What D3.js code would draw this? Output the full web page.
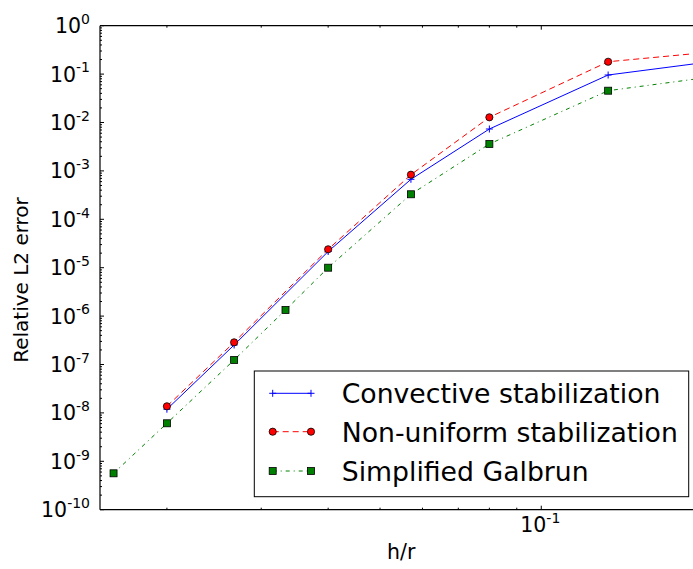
<!DOCTYPE html>
<html><head><meta charset="utf-8">
<script src="https://cdn.jsdelivr.net/npm/d3@7"></script>
<style>body{margin:0;background:#fff}svg{display:block;font-family:"DejaVu Sans",sans-serif}</style>
</head><body><svg id="c" width="693" height="569"></svg>
<script>
// data
const hrConvective = [0.02, 0.0267, 0.04, 0.0571, 0.08, 0.1333, 0.25];
const convective   = [1.19e-8, 2.53e-7, 2.16e-5, 6.70e-4, 7.34e-3, 0.0958, 0.236];
const hrNonUniform = [0.02, 0.0267, 0.04, 0.0571, 0.08, 0.1333, 0.25];
const nonUniform   = [1.37e-8, 2.87e-7, 2.40e-5, 8.34e-4, 1.28e-2, 0.180, 0.346];
const hrGalbrun    = [0.0159, 0.02, 0.0267, 0.0333, 0.04, 0.0571, 0.08, 0.1333, 0.25];
const galbrun      = [5.65e-10, 6.10e-9, 1.24e-7, 1.34e-6, 1.0e-5, 3.29e-4, 3.60e-3, 0.0454, 0.115];
const seriesNames  = ["Convective stabilization", "Non-uniform stabilization", "Simplified Galbrun"];
const yMajorExp    = [0, -1, -2, -3, -4, -5, -6, -7, -8, -9, -10];
const xMajorExp    = [-1];
const xLabel = "h/r", yLabel = "Relative L2 error";

const svg = d3.select("#c");
const L = 100, T = 25.7, B = 509.7, R = 702.5;
const x = d3.scaleLog().domain([0.015, 0.2]).range([L, R]);
const y = d3.scaleLog().domain([1e-10, 1]).range([B, T]);

svg.append("rect").attr("width", 693).attr("height", 569).attr("fill", "#fff");
svg.append("defs").append("clipPath").attr("id", "clip")
  .append("rect").attr("x", L).attr("y", T).attr("width", R - L).attr("height", B - T);

// ticks
const yMinor = [];
for (let e = -10; e < 0; e++) for (let m = 2; m <= 9; m++) yMinor.push(m * Math.pow(10, e));
const xMinor = [0.02,0.03,0.04,0.05,0.06,0.07,0.08,0.09,0.2];
const xMajor = xMajorExp.map(e => Math.pow(10, e));
const yMajor = yMajorExp.map(e => Math.pow(10, e));

const tk = svg.append("g").attr("stroke", "#000").attr("stroke-width", 1);
function hTick(v, len){ tk.append("line").attr("x1", L).attr("x2", L + len).attr("y1", y(v)).attr("y2", y(v)); }
yMajor.forEach(v => hTick(v, 4));
yMinor.forEach(v => hTick(v, 2));
function vTick(v, len){
  tk.append("line").attr("x1", x(v)).attr("x2", x(v)).attr("y1", B).attr("y2", B - len);
  tk.append("line").attr("x1", x(v)).attr("x2", x(v)).attr("y1", T).attr("y2", T + len);
}
xMajor.forEach(v => vTick(v, 4));
xMinor.forEach(v => vTick(v, 2));

// spines
const sp = svg.append("g").attr("stroke", "#000").attr("stroke-width", 1.2).attr("fill", "none");
sp.append("line").attr("x1", L).attr("x2", L).attr("y1", T).attr("y2", B);
sp.append("line").attr("x1", L).attr("x2", R).attr("y1", B).attr("y2", B);
sp.append("line").attr("x1", L).attr("x2", R).attr("y1", T).attr("y2", T);

// tick labels
yMajorExp.forEach(e => {
  const t = svg.append("text").attr("x", 90).attr("y", y(Math.pow(10, e)) + 7.5)
    .attr("text-anchor", "end").attr("font-size", 20.5).attr("fill", "#000");
  t.append("tspan").text("10");
  t.append("tspan").attr("font-size", 14).attr("dy", -9.3).text(String(e));
});
xMajorExp.forEach(e => {
  const t = svg.append("text").attr("x", x(Math.pow(10, e)) - 1).attr("y", B + 22.5)
    .attr("text-anchor", "middle").attr("font-size", 20.5).attr("fill", "#000");
  t.append("tspan").text("10");
  t.append("tspan").attr("font-size", 14).attr("dy", -9.3).text(String(e));
});

// axis labels
svg.append("text").attr("x", (L + R) / 2).attr("y", 559).attr("text-anchor", "middle")
  .attr("font-size", 20.5).text(xLabel);
svg.append("text").attr("transform", `translate(28,280) rotate(-90)`)
  .attr("text-anchor", "middle").attr("font-size", 20).text(yLabel);

// series
const series = [
  {xs: hrConvective, ys: convective, color: "#0000ff", dash: null, marker: "plus"},
  {xs: hrNonUniform, ys: nonUniform, color: "#ff0000", dash: "6,4", marker: "circle"},
  {xs: hrGalbrun, ys: galbrun, color: "#008000", dash: "4,4,1,4", marker: "square"}
];
const plot = svg.append("g").attr("clip-path", "url(#clip)");
const line = d3.line().x(d => x(d[0])).y(d => y(d[1]));

function drawMarker(g, type, cx, cy, color){
  if (type === "plus") {
    g.append("path").attr("d", `M${cx-3.5},${cy}H${cx+3.5}M${cx},${cy-3.5}V${cy+3.5}`)
      .attr("stroke", color).attr("stroke-width", 1).attr("fill", "none");
  } else if (type === "circle") {
    g.append("circle").attr("cx", cx).attr("cy", cy).attr("r", 3.6)
      .attr("fill", color).attr("stroke", "#000").attr("stroke-width", 0.8);
  } else {
    g.append("rect").attr("x", cx - 3.5).attr("y", cy - 3.5).attr("width", 7).attr("height", 7)
      .attr("fill", color).attr("stroke", "#000").attr("stroke-width", 0.8);
  }
}

series.forEach(s => {
  const pts = s.xs.map((v, i) => [v, s.ys[i]]);
  plot.append("path").datum(pts).attr("d", line).attr("fill", "none")
    .attr("stroke", s.color).attr("stroke-width", 1).attr("stroke-dasharray", s.dash);
  const mg = svg.append("g");
  pts.forEach(p => { if (x(p[0]) <= R) drawMarker(mg, s.marker, x(p[0]), y(p[1]), s.color); });
});

// legend
const lg = svg.append("g");
lg.append("rect").attr("x", 254.3).attr("y", 371).attr("width", 434.4).attr("height", 125.7)
  .attr("fill", "#fff").attr("stroke", "#000").attr("stroke-width", 1);
const rows = [393.3, 431.7, 471];
series.forEach((s, i) => {
  const cy = rows[i];
  lg.append("line").attr("x1", 272.7).attr("x2", 311).attr("y1", cy).attr("y2", cy)
    .attr("stroke", s.color).attr("stroke-width", 1).attr("stroke-dasharray", s.dash);
  drawMarker(lg, s.marker, 272.7, cy, s.color);
  drawMarker(lg, s.marker, 311, cy, s.color);
  lg.append("text").attr("x", 341.7).attr("y", cy + 10).attr("font-size", 26.7).text(seriesNames[i]);
});
</script></body></html>
